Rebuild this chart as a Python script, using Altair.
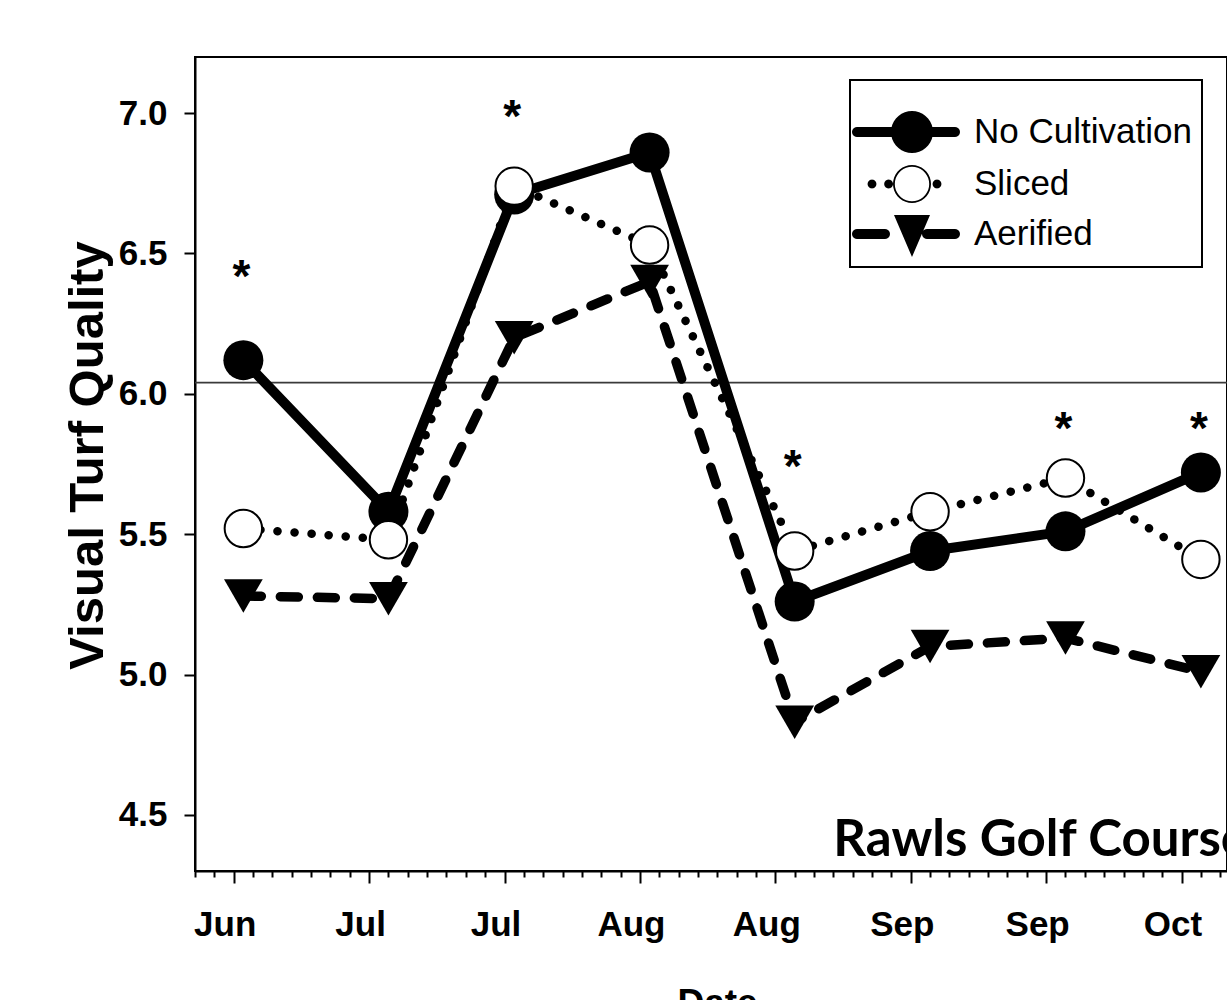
import math

import altair as alt
import pandas as pd

# ---- data -----------------------------------------------------------------
# Rating dates and mean visual turf quality for each cultivation treatment
dates = ["2010-06-28", "2010-07-13", "2010-07-26", "2010-08-09",
         "2010-08-24", "2010-09-07", "2010-09-21", "2010-10-05"]
no_cultivation = [6.12, 5.58, 6.71, 6.86, 5.26, 5.44, 5.51, 5.72]
sliced = [5.52, 5.48, 6.74, 6.53, 5.44, 5.58, 5.70, 5.41]
aerified = [5.28, 5.27, 6.20, 6.40, 4.83, 5.10, 5.13, 5.01]
treatments = ["No Cultivation", "Sliced", "Aerified"]

# Rating dates with a significant treatment effect, and where the asterisk sits
signif_dates = ["2010-06-28", "2010-07-26", "2010-08-24", "2010-09-21", "2010-10-05"]
signif_y = [6.45, 7.02, 5.77, 5.905, 5.905]

# Minimum acceptable quality line
reference_level = 6.04

site_name = "Rawls Golf Course"
site_date = "2010-08-28"
site_y = 4.355

y_ticks = [4.5, 5.0, 5.5, 6.0, 6.5, 7.0]
first_major_tick = "2010-06-27"

# ---- tables ---------------------------------------------------------------
series_df = pd.DataFrame({
    "date": dates * 3,
    "value": no_cultivation + sliced + aerified,
    "treatment": [t for t in treatments for _ in dates],
})
signif_df = pd.DataFrame({"date": signif_dates, "value": signif_y})
reference_df = pd.DataFrame({"value": [reference_level]})
site_df = pd.DataFrame({"date": [site_date], "value": [site_y], "label": [site_name]})
legend_df = pd.DataFrame({"treatment": treatments})

# ---- x axis: a tick every 2 days, labelled (long) tick every 14 days --------
DAY = 86_400_000
t0 = int(pd.Timestamp(first_major_tick, tz="UTC").value // 1_000_000)
tick_values = [t0 + d * DAY for d in range(-4, 103, 2)]
x_domain = [t0 - 4 * DAY, t0 + int(102.7 * DAY)]
is_major = f"((time(datum.value) - {t0}) / {DAY}) % 14 === 0"

FONT = "Liberation Sans"

x_axis = alt.Axis(
    values=tick_values,
    labelExpr=f"{is_major} ? utcFormat(datum.value, '%b') : ''",
    tickSize={"condition": {"test": is_major, "value": 12}, "value": 6},
    tickWidth=2, tickColor="black",
    domainColor="black", domainWidth=2,
    labelFont=FONT, labelFontWeight="bold", labelFontSize=35, labelColor="black",
    labelOffset=-9, labelPadding=24, labelOverlap=False, labelFlush=False,
    title="Date", titleFont=FONT, titleFontWeight="bold", titleFontSize=37,
    titleColor="black", titleX=522, titleY=143, titleBaseline="alphabetic",
    titleAlign="center", titleAnchor="start",
    grid=False,
)
y_axis = alt.Axis(
    values=y_ticks, format=".1f",
    tickSize=11, tickWidth=2, tickColor="black",
    domainColor="black", domainWidth=2,
    labelFont=FONT, labelFontWeight="bold", labelFontSize=35, labelColor="black",
    labelPadding=17,
    title="Visual Turf Quality", titleFont=FONT, titleFontWeight="bold",
    titleFontSize=49, titleColor="black", titleX=-108, titleY=398,
    titleAlign="center", titleBaseline="middle", titleAngle=270,
    grid=False,
)

x_enc = alt.X("date:T", scale=alt.Scale(type="utc", domain=x_domain), axis=x_axis)
y_enc = alt.Y("value:Q", scale=alt.Scale(domain=[4.3, 7.2], nice=False, zero=False), axis=y_axis)

# ---- legend symbols: line sample + marker, in units of half the symbol size --
def circle_pts(cx, r, n=36, reverse=False):
    angs = [2 * math.pi * i / n for i in range(n)]
    if reverse:
        angs = angs[::-1]
    return [(cx + r * math.cos(a), r * math.sin(a)) for a in angs]


def stadium_pts(x0, x1, h, n=10):
    pts = []
    for i in range(n + 1):
        a = -math.pi / 2 + math.pi * i / n
        pts.append((x1 + h * math.cos(a), h * math.sin(a)))
    for i in range(n + 1):
        a = math.pi / 2 + math.pi * i / n
        pts.append((x0 + h * math.cos(a), h * math.sin(a)))
    return pts


def path(*polys):
    return " ".join(
        "M" + " L".join(f"{x:.3f},{y:.3f}" for x, y in p) + " Z" for p in polys
    )


sym_solid = path(stadium_pts(-2.75, 2.15, 0.25), circle_pts(0, 1.05))
sym_dotted = path(
    circle_pts(-2.0, 0.22), circle_pts(-1.17, 0.22), circle_pts(1.25, 0.22),
    circle_pts(0, 0.95), circle_pts(0, 0.86, reverse=True),
)
sym_dashed = path(
    stadium_pts(-2.75, -1.35, 0.25), stadium_pts(0.75, 2.15, 0.25),
    [(-0.9, -0.95), (0.9, -0.95), (0.0, 1.15)],
)

# ---- layers ---------------------------------------------------------------
base = alt.Chart(series_df)


def only(name):
    return base.transform_filter(alt.datum.treatment == name)


reference_rule = alt.Chart(reference_df).mark_rule(color="#3a3a3a", strokeWidth=1.6).encode(y=y_enc)

nc_line = only("No Cultivation").mark_line(
    color="black", strokeWidth=10, strokeJoin="round", strokeCap="round"
).encode(x=x_enc, y=y_enc)
nc_pts = only("No Cultivation").mark_point(
    shape="circle", filled=True, color="black", size=1600, opacity=1
).encode(x=x_enc, y=y_enc)

sl_line = only("Sliced").mark_line(
    color="black", strokeWidth=8.5, strokeCap="round", strokeDash=[0.1, 17]
).encode(x=x_enc, y=y_enc)
sl_pts = only("Sliced").mark_point(
    shape="circle", filled=True, fill="white", stroke="black", strokeWidth=2,
    size=1400, opacity=1
).encode(x=x_enc, y=y_enc)

ae_line = only("Aerified").mark_line(
    color="black", strokeWidth=9.5, strokeCap="round", strokeDash=[18, 19]
).encode(x=x_enc, y=y_enc)
ae_pts = only("Aerified").mark_point(
    shape="triangle-down", filled=True, color="black", size=1500, opacity=1
).encode(x=x_enc, y=y_enc)

stars = alt.Chart(signif_df).mark_text(
    text="*", font=FONT, fontWeight="bold", fontSize=46, color="black",
    baseline="alphabetic", dy=24, dx=-2
).encode(x=x_enc, y=y_enc)

site_text = alt.Chart(site_df).mark_text(
    font="Lato", fontWeight="bold", fontSize=51, color="black",
    align="left", baseline="alphabetic"
).encode(x=x_enc, y=y_enc, text="label:N")

legend_layer = alt.Chart(legend_df).mark_point(
    filled=True, color="black", opacity=0, size=1600
).encode(
    shape=alt.Shape(
        "treatment:N",
        scale=alt.Scale(domain=treatments, range=[sym_solid, sym_dotted, sym_dashed]),
        legend=alt.Legend(
            title=" ", titleFontSize=14, titlePadding=8,
            orient="none", legendX=655, legendY=23, padding=10,
            strokeColor="black", fillColor="white",
            symbolSize=1600, symbolFillColor="black", symbolStrokeWidth=0,
            symbolOpacity=1, symbolOffset=32,
            labelFont=FONT, labelFontSize=35, labelColor="black",
            labelOffset=42, labelLimit=400, rowPadding=11,
        ),
    )
)

chart = alt.layer(
    reference_rule, nc_line, nc_pts, sl_line, sl_pts, ae_line, ae_pts,
    stars, site_text, legend_layer,
).properties(
    width=1032, height=814,
    autosize=alt.AutoSizeParams(type="none"),
    padding={"left": 195, "top": 57, "right": 0, "bottom": 129},
    background="white",
).configure_view(
    stroke="black", strokeWidth=2
).configure_legend(
    strokeWidth=2
)

chart.save("out.html", embed_options={"renderer": "svg", "actions": False})
